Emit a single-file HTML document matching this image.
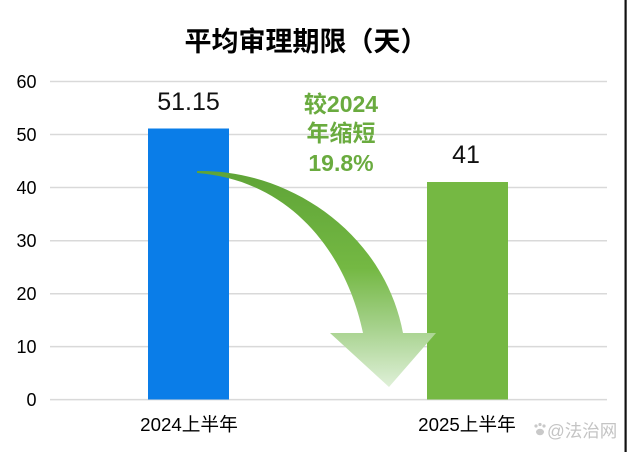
<!DOCTYPE html>
<html>
<head>
<meta charset="utf-8">
<style>
  html,body{margin:0;padding:0;background:#fff;}
  body{width:630px;height:452px;overflow:hidden;}
  svg{display:block;}
  .cjk{font-family:"Liberation Sans","Noto Sans CJK SC",sans-serif;}
</style>
</head>
<body>
<svg width="630" height="452" viewBox="0 0 630 452" xmlns="http://www.w3.org/2000/svg">
  <defs>
    <linearGradient id="ag" x1="0" y1="171" x2="0" y2="387" gradientUnits="userSpaceOnUse">
      <stop offset="0" stop-color="#5fa437"/>
      <stop offset="0.45" stop-color="#74b843"/>
      <stop offset="0.72" stop-color="#a5d18b"/>
      <stop offset="1" stop-color="#dff0d8"/>
    </linearGradient>
  </defs>
  <rect width="630" height="452" fill="#fff"/>
  <!-- gridlines -->
  <g stroke="#d9d9d9" stroke-width="1.5">
    <line x1="50" y1="81.5" x2="607" y2="81.5"/>
    <line x1="50" y1="134.5" x2="607" y2="134.5"/>
    <line x1="50" y1="187.5" x2="607" y2="187.5"/>
    <line x1="50" y1="240.8" x2="607" y2="240.8"/>
    <line x1="50" y1="293.8" x2="607" y2="293.8"/>
    <line x1="50" y1="346.6" x2="607" y2="346.6"/>
    <line x1="50" y1="399.6" x2="607" y2="399.6"/>
  </g>
  <!-- y labels -->
  <g class="cjk" font-size="18" fill="#000" text-anchor="end">
    <text x="36.5" y="88">60</text>
    <text x="36.5" y="141">50</text>
    <text x="36.5" y="194">40</text>
    <text x="36.5" y="247">30</text>
    <text x="36.5" y="300">20</text>
    <text x="36.5" y="353">10</text>
    <text x="36.5" y="406">0</text>
  </g>
  <!-- bars -->
  <rect x="148" y="128.5" width="81" height="271" fill="#0a7de8"/>
  <rect x="427" y="182" width="81" height="217.5" fill="#75b843"/>
  <!-- value labels -->
  <text x="188.5" y="110" font-family="Liberation Sans, sans-serif" font-size="25" text-anchor="middle" fill="#111">51.15</text>
  <text x="466" y="163" font-family="Liberation Sans, sans-serif" font-size="25" text-anchor="middle" fill="#111">41</text>
  <!-- title -->
  <text x="306" y="51" class="cjk" font-size="27" font-weight="bold" text-anchor="middle" fill="#000">平均审理期限（天）</text>
  <!-- annotation -->
  <g class="cjk" font-size="23" font-weight="bold" fill="#6aab3f" text-anchor="middle">
    <text x="341" y="112">较2024</text>
    <text x="341" y="141">年缩短</text>
    <text x="341" y="171">19.8%</text>
  </g>
  <!-- arrow -->
  <path d="M197,171 C288,169 384,232 403,333 L436,333 L389,387 L330,333 L363,333 C346,252 290,180 197,173 Z" fill="url(#ag)"/>
  <!-- x labels -->
  <g class="cjk" font-size="18.7" fill="#000" text-anchor="middle">
    <text x="189" y="431">2024上半年</text>
    <text x="467" y="431">2025上半年</text>
  </g>
  <!-- watermark -->
  <g fill="#c9c9c9">
    <circle cx="536" cy="426" r="1.6"/>
    <circle cx="540" cy="424.5" r="1.6"/>
    <circle cx="544" cy="426" r="1.6"/>
    <ellipse cx="540" cy="432" rx="4" ry="3.2"/>
  </g>
  <text x="547" y="437" class="cjk" font-size="17.5" fill="#c4c4c4">@法治网</text>
  <!-- right border -->
  <rect x="624.5" y="0" width="2.2" height="452" fill="#111"/>
</svg>
</body>
</html>
